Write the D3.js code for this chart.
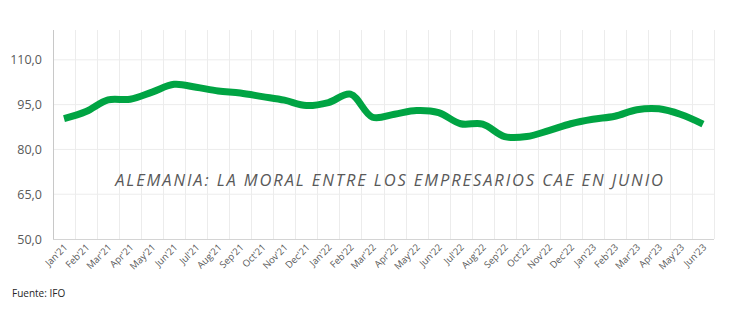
<!DOCTYPE html>
<html>
<head>
<meta charset="utf-8">
<script src="https://cdn.jsdelivr.net/npm/d3@7"></script>
<style>
  html, body { margin: 0; padding: 0; background: #fff; }
  svg { display: block; }
</style>
</head>
<body>
<script>
const months = ["Jan'21","Feb'21","Mar'21","Apr'21","May'21","Jun'21","Jul'21","Aug'21","Sep'21","Oct'21","Nov'21","Dec'21",
  "Jan'22","Feb'22","Mar'22","Apr'22","May'22","Jun'22","Jul'22","Aug'22","Sep'22","Oct'22","Nov'22","Dec'22",
  "Jan'23","Feb'23","Mar'23","Apr'23","May'23","Jun'23"];
const ifoValues = [90.3, 92.7, 96.6, 96.8, 99.2, 101.8, 100.8, 99.6, 98.9, 97.7, 96.5, 94.7,
  95.7, 98.5, 90.8, 91.8, 93.0, 92.3, 88.6, 88.5, 84.3, 84.3, 86.3, 88.6,
  90.1, 91.1, 93.3, 93.6, 91.7, 88.5];
const yTicks = [50, 65, 80, 95, 110];
const yDomain = [50, 120];
const title = "ALEMANIA: LA MORAL ENTRE LOS EMPRESARIOS CAE EN JUNIO";
const source = "Fuente: IFO";

const W = 741, H = 324;
const m = {left: 53, right: 741 - 714, top: 30, bottom: 324 - 239};
const svg = d3.select("body").append("svg").attr("width", W).attr("height", H);

const x = d3.scaleBand().domain(months).range([m.left, W - m.right]);
const y = d3.scaleLinear().domain(yDomain).range([H - m.bottom, m.top]);

const grid = svg.append("g");
grid.selectAll("line.h").data(yTicks.slice(1)).join("line")
  .attr("x1", m.left).attr("x2", W - m.right)
  .attr("y1", d => y(d)).attr("y2", d => y(d))
  .attr("stroke", "#ececec").attr("stroke-width", 1);
const bounds = months.map(d => x(d)).concat([x(months[months.length - 1]) + x.bandwidth()]);
grid.selectAll("line.v").data(bounds.slice(1)).join("line")
  .attr("x1", d => Math.round(d) + 0.5).attr("x2", d => Math.round(d) + 0.5)
  .attr("y1", m.top).attr("y2", H - m.bottom)
  .attr("stroke", "#ececec").attr("stroke-width", 1);

svg.append("line").attr("x1", m.left + 0.5).attr("x2", m.left + 0.5)
  .attr("y1", m.top).attr("y2", H - m.bottom).attr("stroke", "#c8c8c8");
svg.append("line").attr("x1", m.left).attr("x2", W - m.right)
  .attr("y1", H - m.bottom + 0.5).attr("y2", H - m.bottom + 0.5).attr("stroke", "#d4d4d4");

const fmt = d => d.toFixed(1).replace(".", ",");
svg.append("g").selectAll("text").data(yTicks).join("text")
  .attr("x", 42).attr("y", d => y(d) + 4.5)
  .attr("text-anchor", "end")
  .attr("font-family", "'Open Sans', sans-serif").attr("font-size", 12.5)
  .attr("fill", "#595959").text(fmt);

svg.append("g").selectAll("text").data(months).join("text")
  .attr("transform", d => `translate(${x(d) + x.bandwidth() / 2 + 4},${H - m.bottom + 9}) rotate(-45)`)
  .attr("text-anchor", "end")
  .attr("font-family", "'Open Sans', sans-serif").attr("font-size", 9.5)
  .attr("fill", "#595959").text(d => d);

svg.append("text").attr("x", 390).attr("y", 186)
  .attr("text-anchor", "middle")
  .attr("font-family", "'Open Sans', sans-serif").attr("font-style", "italic")
  .attr("font-size", 16.5).attr("letter-spacing", 1.9)
  .attr("fill", "#595959").text(title);

const line = d3.line()
  .x((d, i) => x(months[i]) + x.bandwidth() / 2)
  .y(d => y(d))
  .curve(d3.curveCatmullRom.alpha(0.5));
svg.append("path").datum(ifoValues)
  .attr("d", line).attr("fill", "none")
  .attr("stroke", "#00A443").attr("stroke-width", 7);

svg.append("text").attr("x", 12).attr("y", 297)
  .attr("font-family", "'Open Sans', sans-serif").attr("font-size", 10)
  .attr("fill", "#262626").text(source);
</script>
</body>
</html>
